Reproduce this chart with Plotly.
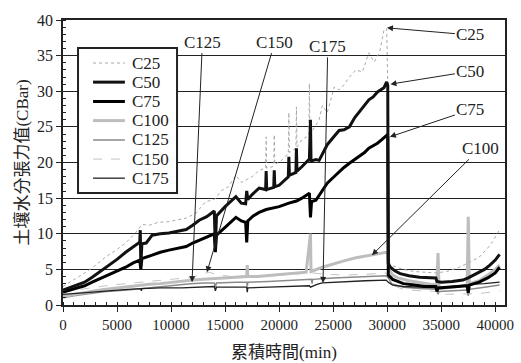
import plotly.graph_objects as go

series_names = ["C25", "C50", "C75", "C100", "C125", "C150", "C175"]

c25_x = [0, 1000, 2000, 2700, 4000, 5000, 5800, 6750, 7300, 8000, 8800, 9800, 10500, 11400, 12300, 13200, 14000, 14700, 15300, 16000, 16500, 16900, 17500, 18150, 18750, 18800, 18850, 19350, 19500, 19550, 19600, 20300, 20850, 20900, 20950, 21550, 21600, 21650, 22100, 22750, 22800, 22850, 23000, 23700, 24000, 24450, 24600, 25100, 25550, 26000, 26500, 27100, 27700, 28300, 28800, 29300, 29700, 29950, 30050, 30150, 30500, 31500, 32500, 33500, 34500, 35500, 36500, 37500, 38500, 39200, 39800, 40400]
c25_y = [2.6, 3.5, 4.5, 5.2, 6.8, 7.8, 8.7, 10.2, 11.3, 11.2, 11.6, 11.7, 11.9, 12.2, 12.9, 14.5, 14.8, 16.1, 16.6, 18.2, 17.2, 17.5, 18.0, 18.9, 19.2, 23.6, 19.2, 19.4, 19.5, 23.9, 19.7, 20.4, 21.2, 27.0, 21.4, 22.0, 27.8, 22.2, 23.2, 23.8, 31.1, 23.9, 24.3, 26.0, 28.0, 27.0, 27.8, 30.6, 30.2, 30.9, 32.0, 33.0, 32.7, 35.4, 34.1, 35.5, 38.6, 38.8, 31.0, 6.0, 5.5, 5.0, 4.7, 4.6, 4.5, 4.7, 5.2, 5.9, 6.7, 7.8, 9.0, 10.6]

c50_x = [0, 1000, 2000, 2700, 4000, 5000, 5800, 6500, 7100, 7150, 7200, 7300, 7700, 8250, 9000, 9800, 10600, 11400, 12000, 12600, 13300, 14000, 14100, 14200, 15000, 16000, 16500, 16900, 17000, 17100, 17500, 18150, 18750, 18800, 18850, 19500, 19550, 19600, 20000, 20300, 20850, 20900, 20950, 21550, 21600, 21650, 22100, 22800, 22900, 22950, 23400, 23700, 24450, 25000, 25550, 26000, 26500, 27000, 27400, 27900, 28300, 28700, 29100, 29700, 29950, 30050, 30100, 30300, 30700, 31200, 32000, 33000, 34500, 34600, 35000, 36000, 37000, 37500, 38000, 38500, 39000, 39500, 40000, 40400]
c50_y = [2.1, 2.6, 3.2, 3.9, 5.3, 6.4, 7.4, 8.2, 8.8, 10.5, 5.5, 8.6, 8.7, 9.8, 10.0, 10.1, 10.3, 10.6, 11.2, 11.9, 12.4, 13.2, 7.8, 12.5, 13.8, 15.2, 14.3, 14.2, 16.0, 14.8, 15.5, 16.4, 16.2, 18.8, 16.2, 16.5, 18.9, 16.6, 16.8, 17.2, 18.0, 20.8, 18.2, 18.6, 22.0, 18.8, 19.4, 20.5, 26.0, 20.2, 20.4, 20.3, 22.5, 23.5, 24.5, 24.6, 25.0, 26.3, 27.1, 28.0, 28.8, 29.2, 29.9, 30.5, 31.3, 30.8, 5.8, 5.3, 4.8, 4.4, 4.1, 3.9, 3.8, 3.3, 3.2, 3.3, 3.5, 3.8, 4.2, 4.6, 5.0, 5.6, 6.3, 7.1]

c75_x = [0, 1000, 2000, 2700, 4000, 5000, 5800, 6500, 7100, 7200, 7300, 8250, 9000, 9800, 10600, 11400, 12000, 12600, 13300, 14000, 14100, 14200, 15000, 16000, 16500, 16900, 17000, 17100, 17600, 18150, 18800, 19550, 20000, 20900, 21600, 22100, 22800, 22900, 23000, 23400, 23700, 24450, 25000, 25550, 26000, 26500, 27400, 27900, 28300, 29100, 29500, 29950, 30050, 30100, 30500, 31500, 32500, 33500, 34500, 34600, 34700, 35500, 36500, 37400, 37500, 37600, 38500, 39300, 40000, 40400]
c75_y = [1.8, 2.2, 2.7, 3.2, 4.1, 4.7, 5.3, 5.9, 6.3, 5.0, 6.5, 7.0, 7.4, 7.7, 7.9, 8.2, 8.7, 9.1, 9.5, 10.0, 7.4, 9.8, 10.9, 12.3, 11.8, 11.6, 8.8, 11.8, 12.5, 13.0, 13.4, 13.6, 13.8, 14.3, 14.6, 15.0, 15.7, 12.3, 14.5, 14.7, 15.4, 17.1, 17.9, 18.7, 19.3, 19.9, 20.8, 21.4, 22.0, 22.7, 23.2, 23.8, 23.6, 4.2, 3.6, 3.0, 2.8, 2.6, 2.6, 1.9, 2.4, 2.5, 2.6, 2.7, 1.7, 2.8, 3.2, 3.8, 4.5, 5.3]

c100_x = [0, 1000, 2000, 3000, 4000, 5000, 6000, 7200, 8000, 9000, 10000, 11000, 12000, 13000, 14000, 15000, 16000, 17000, 17050, 17100, 18000, 19500, 21000, 22500, 22900, 22950, 24000, 25000, 26000, 27000, 28000, 29000, 29900, 30050, 30150, 30500, 31000, 32000, 33000, 34000, 34600, 34700, 34800, 35500, 36500, 37400, 37500, 37600, 38500, 39300, 40000, 40400]
c100_y = [1.2, 1.5, 1.8, 2.0, 2.2, 2.4, 2.6, 2.8, 2.9, 3.0, 3.2, 3.3, 3.5, 3.6, 3.7, 3.8, 3.9, 4.0, 5.6, 4.0, 4.0, 4.2, 4.4, 4.6, 10.0, 4.7, 5.3, 5.8, 6.2, 6.6, 6.9, 7.1, 7.4, 7.2, 5.0, 4.2, 3.8, 3.4, 3.1, 2.9, 2.8, 7.3, 2.3, 2.4, 2.6, 2.8, 12.4, 3.0, 3.4, 4.2, 5.0, 5.6]

c125_x = [0, 1000, 2500, 4000, 6000, 7200, 9000, 10500, 11800, 13000, 14000, 14100, 14200, 16000, 17000, 17050, 17100, 19000, 21000, 23000, 23050, 23100, 25000, 27000, 29900, 30100, 30400, 31500, 33000, 34600, 34700, 34800, 36000, 37400, 37500, 37600, 39000, 40400]
c125_y = [1.0, 1.3, 1.6, 1.9, 2.1, 2.3, 2.6, 2.8, 3.0, 3.1, 3.1, 2.5, 3.1, 3.2, 3.2, 2.6, 3.2, 3.3, 3.4, 3.6, 3.0, 3.6, 3.8, 3.9, 4.1, 3.8, 3.0, 2.5, 2.3, 2.2, 1.5, 1.9, 2.0, 2.1, 1.3, 2.2, 2.5, 2.8]

c150_x = [0, 1500, 3000, 4500, 6000, 7500, 9000, 10500, 12000, 13000, 13500, 14200, 15500, 17000, 18500, 20000, 21500, 23000, 24500, 26000, 28000, 29900, 30100, 30400, 31500, 33000, 34600, 34700, 35500, 37000, 38500, 39500, 40400]
c150_y = [1.8, 2.2, 2.5, 2.8, 3.0, 3.2, 3.4, 3.6, 3.9, 4.4, 4.6, 4.3, 4.0, 4.1, 4.0, 4.2, 4.3, 4.5, 4.3, 4.2, 4.3, 4.5, 4.0, 2.8, 2.2, 2.0, 1.9, 1.4, 1.5, 1.5, 1.6, 1.8, 2.0]

c175_x = [0, 1500, 3000, 4500, 6000, 7200, 7250, 7300, 9000, 11000, 12500, 14000, 14100, 14200, 16000, 17000, 17050, 17100, 19000, 21000, 22800, 22900, 23500, 24000, 26000, 28000, 29900, 30100, 30500, 31500, 33000, 34500, 34600, 34700, 36000, 37400, 37500, 37600, 39000, 40400]
c175_y = [1.5, 1.7, 1.9, 2.1, 2.2, 2.3, 2.0, 2.3, 2.4, 2.4, 2.5, 2.6, 2.0, 2.5, 2.5, 2.5, 1.8, 2.4, 2.5, 2.6, 2.7, 2.5, 2.9, 3.1, 3.2, 3.4, 3.5, 3.2, 2.8, 2.6, 2.5, 2.4, 2.0, 2.4, 2.6, 2.8, 2.4, 2.9, 3.0, 3.2]

x_tick_vals = [0, 5000, 10000, 15000, 20000, 25000, 30000, 35000, 40000]
y_tick_vals = [0, 5, 10, 15, 20, 25, 30, 35, 40]

ann_labels = ["C25", "C50", "C75", "C100", "C125", "C150", "C175"]
ann_tip_x = [29980, 30300, 30250, 28590, 11940, 13320, 24060]
ann_tip_y = [38.9, 31.0, 23.6, 7.0, 3.2, 4.6, 3.1]
ann_txt_x = [37700, 37700, 37700, 38600, 12900, 19600, 24500]
ann_txt_y = [37.9, 32.8, 27.4, 22.0, 36.9, 36.9, 36.3]

styles = {
    "C25": dict(color="#a8a8a8", width=1, dash="dot"),
    "C50": dict(color="#111111", width=3, dash="solid"),
    "C75": dict(color="#000000", width=3, dash="solid"),
    "C100": dict(color="#bdbdbd", width=3, dash="solid"),
    "C125": dict(color="#8a8a8a", width=1.5, dash="solid"),
    "C150": dict(color="#c4c4c4", width=1, dash="dash"),
    "C175": dict(color="#222222", width=1.3, dash="solid"),
}

data = {
    "C25": (c25_x, c25_y), "C50": (c50_x, c50_y), "C75": (c75_x, c75_y),
    "C100": (c100_x, c100_y), "C125": (c125_x, c125_y),
    "C150": (c150_x, c150_y), "C175": (c175_x, c175_y),
}

draw_order = ["C150", "C125", "C100", "C175", "C25", "C75", "C50"]

fig = go.Figure()
for name in draw_order:
    xs, ys = data[name]
    fig.add_trace(go.Scatter(
        x=xs, y=ys, mode="lines", name=name,
        line=styles[name], showlegend=False,
    ))

latin = "Times New Roman, Liberation Serif, serif"
cjk = "Times New Roman, Liberation Serif, Noto Sans CJK TC"

for lab, tx, ty, ax, ay in zip(ann_labels, ann_tip_x, ann_tip_y, ann_txt_x, ann_txt_y):
    fig.add_annotation(
        x=tx, y=ty, ax=ax, ay=ay, xref="x", yref="y", axref="x", ayref="y",
        text=lab, showarrow=True, arrowhead=2, arrowsize=1.2, arrowwidth=1,
        arrowcolor="#222222", font=dict(family=latin, size=17, color="#222222"),
        bgcolor="rgba(0,0,0,0)",
    )

# hand-built legend box (paper coordinates)
fig.add_shape(type="rect", xref="paper", yref="paper", x0=0.034, x1=0.258, y0=0.393, y1=0.902,
              line=dict(color="#222222", width=2), fillcolor="white", layer="above")
leg_y = [0.849, 0.782, 0.714, 0.647, 0.579, 0.512, 0.445]
for name, ly in zip(series_names, leg_y):
    st = styles[name]
    fig.add_shape(type="line", xref="paper", yref="paper", x0=0.068, x1=0.140, y0=ly, y1=ly,
                  line=dict(color=st["color"], width=st["width"], dash=st["dash"]), layer="above")
    fig.add_annotation(x=0.152, y=ly, xref="paper", yref="paper", xanchor="left", yanchor="middle",
                       text=name, showarrow=False, font=dict(family=latin, size=17, color="#222222"))

fig.update_layout(
    width=521, height=363,
    margin=dict(l=63, r=16, t=20, b=58),
    paper_bgcolor="white", plot_bgcolor="white",
    font=dict(family=latin, color="#222222"),
    showlegend=False,
    xaxis=dict(
        range=[0, 40900], tickvals=x_tick_vals,
        ticktext=[str(v) for v in x_tick_vals],
        showgrid=False, zeroline=False, automargin=False,
        showline=True, linecolor="#222222", linewidth=1.5, mirror=True,
        ticks="outside", ticklen=5, tickcolor="#222222",
        minor=dict(dtick=1000, ticks="inside", ticklen=3, tickcolor="#222222", showgrid=False),
        tickfont=dict(family=latin, size=15, color="#222222"),
        title=dict(text="累積時間(min)", font=dict(family=cjk, size=17, color="#222222"), standoff=14),
    ),
    yaxis=dict(
        range=[0, 40], tickvals=y_tick_vals,
        showgrid=True, gridcolor="#222222", gridwidth=1, zeroline=False, automargin=False,
        showline=True, linecolor="#222222", linewidth=1.5, mirror=True,
        ticks="outside", ticklen=5, tickcolor="#222222",
        minor=dict(dtick=1, ticks="inside", ticklen=3, tickcolor="#222222", showgrid=False),
        tickfont=dict(family=latin, size=16, color="#222222"),
        title=dict(text="土壤水分張力值(CBar)", font=dict(family=cjk, size=17, color="#222222"), standoff=4),
    ),
)

fig.write_html("out.html")
